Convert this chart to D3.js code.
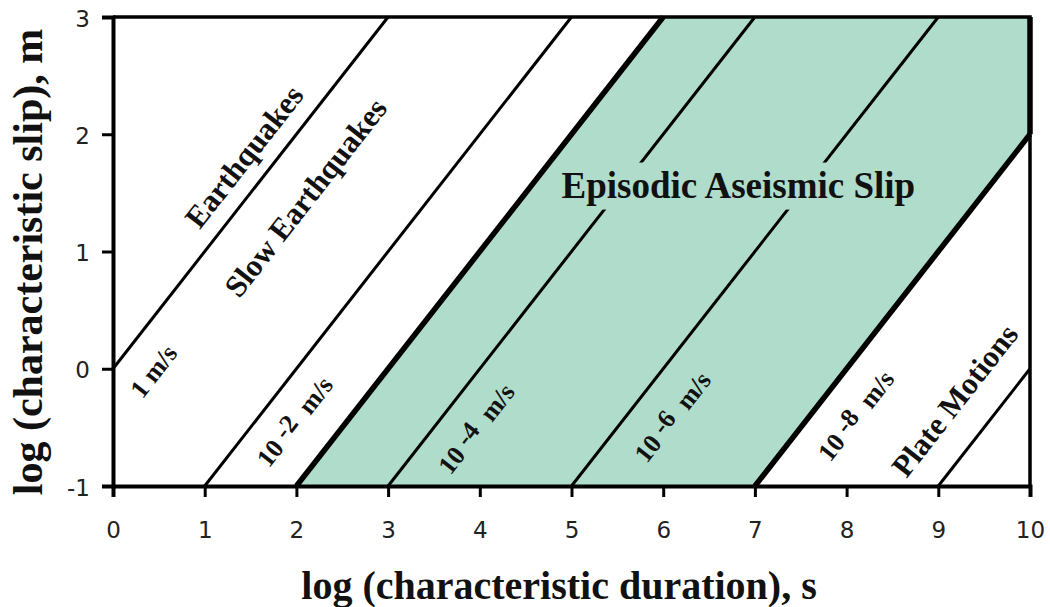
<!DOCTYPE html>
<html>
<head>
<meta charset="utf-8">
<script src="https://cdn.jsdelivr.net/npm/d3@7"></script>
<style>
  html, body { margin: 0; padding: 0; background: #fff; }
  svg { display: block; }
  text { white-space: pre; }
</style>
</head>
<body>
<svg id="chart" width="1050" height="607"></svg>
<script>
// ---- data ----
const xTicks = [0, 1, 2, 3, 4, 5, 6, 7, 8, 9, 10];
const yTicks = [-1, 0, 1, 2, 3];
const xDomain = [0, 10];
const yDomain = [-1, 3];
// log10 of slip velocity (m/s) for each constant-velocity line: log slip = log duration + log v
const velocityExponents = [0, -2, -3, -4, -6, -8, -10];
// shaded "Episodic Aseismic Slip" band lies between these two velocity lines
const shadedBand = [-3, -8];
// labels: text, position in data units (log duration, log slip)
const lineLabels = [
  { base: "1 m/s", sup: null, rest: null, x: 0.44, y: -0.02 },
  { base: "10 ", sup: "-2", rest: "  m/s", x: 1.98, y: -0.45 },
  { base: "10 ", sup: "-4", rest: "  m/s", x: 3.96, y: -0.51 },
  { base: "10 ", sup: "-6", rest: "  m/s", x: 6.10, y: -0.41 },
  { base: "10 ", sup: "-8", rest: "  m/s", x: 8.10, y: -0.40 }
];
const regionLabels = [
  { text: "Earthquakes", x: 1.43, y: 1.81 },
  { text: "Slow Earthquakes", x: 2.10, y: 1.46 },
  { text: "Plate Motions", x: 9.18, y: -0.27 }
];
const bandLabel = { text: "Episodic Aseismic Slip", x: 6.82, y: 1.46 };
const xTitle = "log (characteristic duration), s";
const yTitle = "log (characteristic slip), m";

// ---- layout ----
const svg = d3.select("#chart");
const x = d3.scaleLinear().domain(xDomain).range([113, 1030]);
const y = d3.scaleLinear().domain(yDomain).range([486, 17]);
const shade = "#b0dccc";
const serif = "'Liberation Serif', 'Times New Roman', serif";
const sans = "'DejaVu Sans', Verdana, sans-serif";
const angle = -Math.atan((y(0) - y(1)) / (x(1) - x(0))) * 180 / Math.PI;

// clip a velocity line to the plot domain
function segment(e) {
  let x0 = Math.max(xDomain[0], yDomain[0] - e);
  let x1 = Math.min(xDomain[1], yDomain[1] - e);
  return [[x0, x0 + e], [x1, x1 + e]];
}

// shaded band polygon
const [eHi, eLo] = shadedBand;
const sHi = segment(eHi), sLo = segment(eLo);
const bandPts = [sHi[0], sHi[1], [xDomain[1], yDomain[1]], sLo[1], sLo[0]];
svg.append("path")
  .attr("d", d3.line().x(d => x(d[0])).y(d => y(d[1]))(bandPts) + "Z")
  .attr("fill", shade).attr("stroke", "none");

// velocity lines
const lineGen = d3.line().x(d => x(d[0])).y(d => y(d[1]));
svg.append("g").selectAll("path").data(velocityExponents).join("path")
  .attr("d", e => lineGen(segment(e)))
  .attr("fill", "none")
  .attr("stroke", "#000")
  .attr("stroke-width", e => shadedBand.includes(e) ? 5.5 : 3);

// thick right edge of the band
svg.append("path")
  .attr("d", lineGen([sLo[1], [xDomain[1], yDomain[1]]]))
  .attr("stroke", "#000").attr("stroke-width", 5.5).attr("fill", "none");

// frame (top + right)
svg.append("path")
  .attr("d", lineGen([[xDomain[0], yDomain[1]], [xDomain[1], yDomain[1]], [xDomain[1], yDomain[0]]]))
  .attr("stroke", "#000").attr("stroke-width", 3.5).attr("fill", "none");

// axes
const xAxis = svg.append("g").attr("transform", `translate(0,${y(yDomain[0])})`)
  .call(d3.axisBottom(x).tickValues(xTicks).tickSize(11).tickPadding(25).tickFormat(d3.format("d")));
const yAxis = svg.append("g").attr("transform", `translate(${x(xDomain[0])},0)`)
  .call(d3.axisLeft(y).tickValues(yTicks).tickSize(11).tickPadding(12).tickFormat(d => d < 0 ? "-" + Math.abs(d) : d));
[xAxis, yAxis].forEach(a => {
  a.select(".domain").attr("stroke", "#000").attr("stroke-width", 4);
  a.selectAll(".tick line").attr("stroke", "#000").attr("stroke-width", 3);
  a.selectAll(".tick text").attr("fill", "#222").style("font-family", sans).style("font-size", "23px");
});
yAxis.selectAll(".tick text").attr("dy", "0.4em");

// band label with shaded backing
const bl = svg.append("g");
const blText = bl.append("text")
  .attr("x", x(bandLabel.x)).attr("y", y(bandLabel.y))
  .attr("text-anchor", "middle")
  .style("font-family", serif).style("font-weight", "bold").style("font-size", "37px")
  .attr("fill", "#111")
  .text(bandLabel.text);
const bb = blText.node().getBBox();
bl.insert("rect", "text")
  .attr("x", bb.x - 4).attr("y", bb.y - 2).attr("width", bb.width + 8).attr("height", bb.height + 6)
  .attr("fill", shade);

// region labels
svg.append("g").selectAll("text").data(regionLabels).join("text")
  .attr("transform", d => `translate(${x(d.x)},${y(d.y)}) rotate(${angle})`)
  .attr("text-anchor", "middle").attr("dominant-baseline", "central")
  .style("font-family", serif).style("font-weight", "bold").style("font-size", "31px")
  .attr("fill", "#111")
  .text(d => d.text);

// velocity labels
const vl = svg.append("g").selectAll("text").data(lineLabels).join("text")
  .attr("transform", d => `translate(${x(d.x)},${y(d.y)}) rotate(${angle})`)
  .attr("text-anchor", "middle").attr("dominant-baseline", "central")
  .style("font-family", serif).style("font-weight", "bold").style("font-size", "26px")
  .attr("fill", "#111");
vl.append("tspan").text(d => d.base);
vl.filter(d => d.sup).append("tspan").attr("dy", -4).text(d => d.sup);
vl.filter(d => d.rest).append("tspan").attr("dy", 4).text(d => d.rest);

// axis titles
svg.append("text")
  .attr("x", 559).attr("y", 599).attr("text-anchor", "middle")
  .style("font-family", serif).style("font-weight", "bold").style("font-size", "40px")
  .attr("fill", "#111").text(xTitle);
svg.append("text")
  .attr("transform", "translate(42,262) rotate(-90)").attr("text-anchor", "middle")
  .style("font-family", serif).style("font-weight", "bold").style("font-size", "42px")
  .attr("fill", "#111").text(yTitle);
</script>
</body>
</html>
